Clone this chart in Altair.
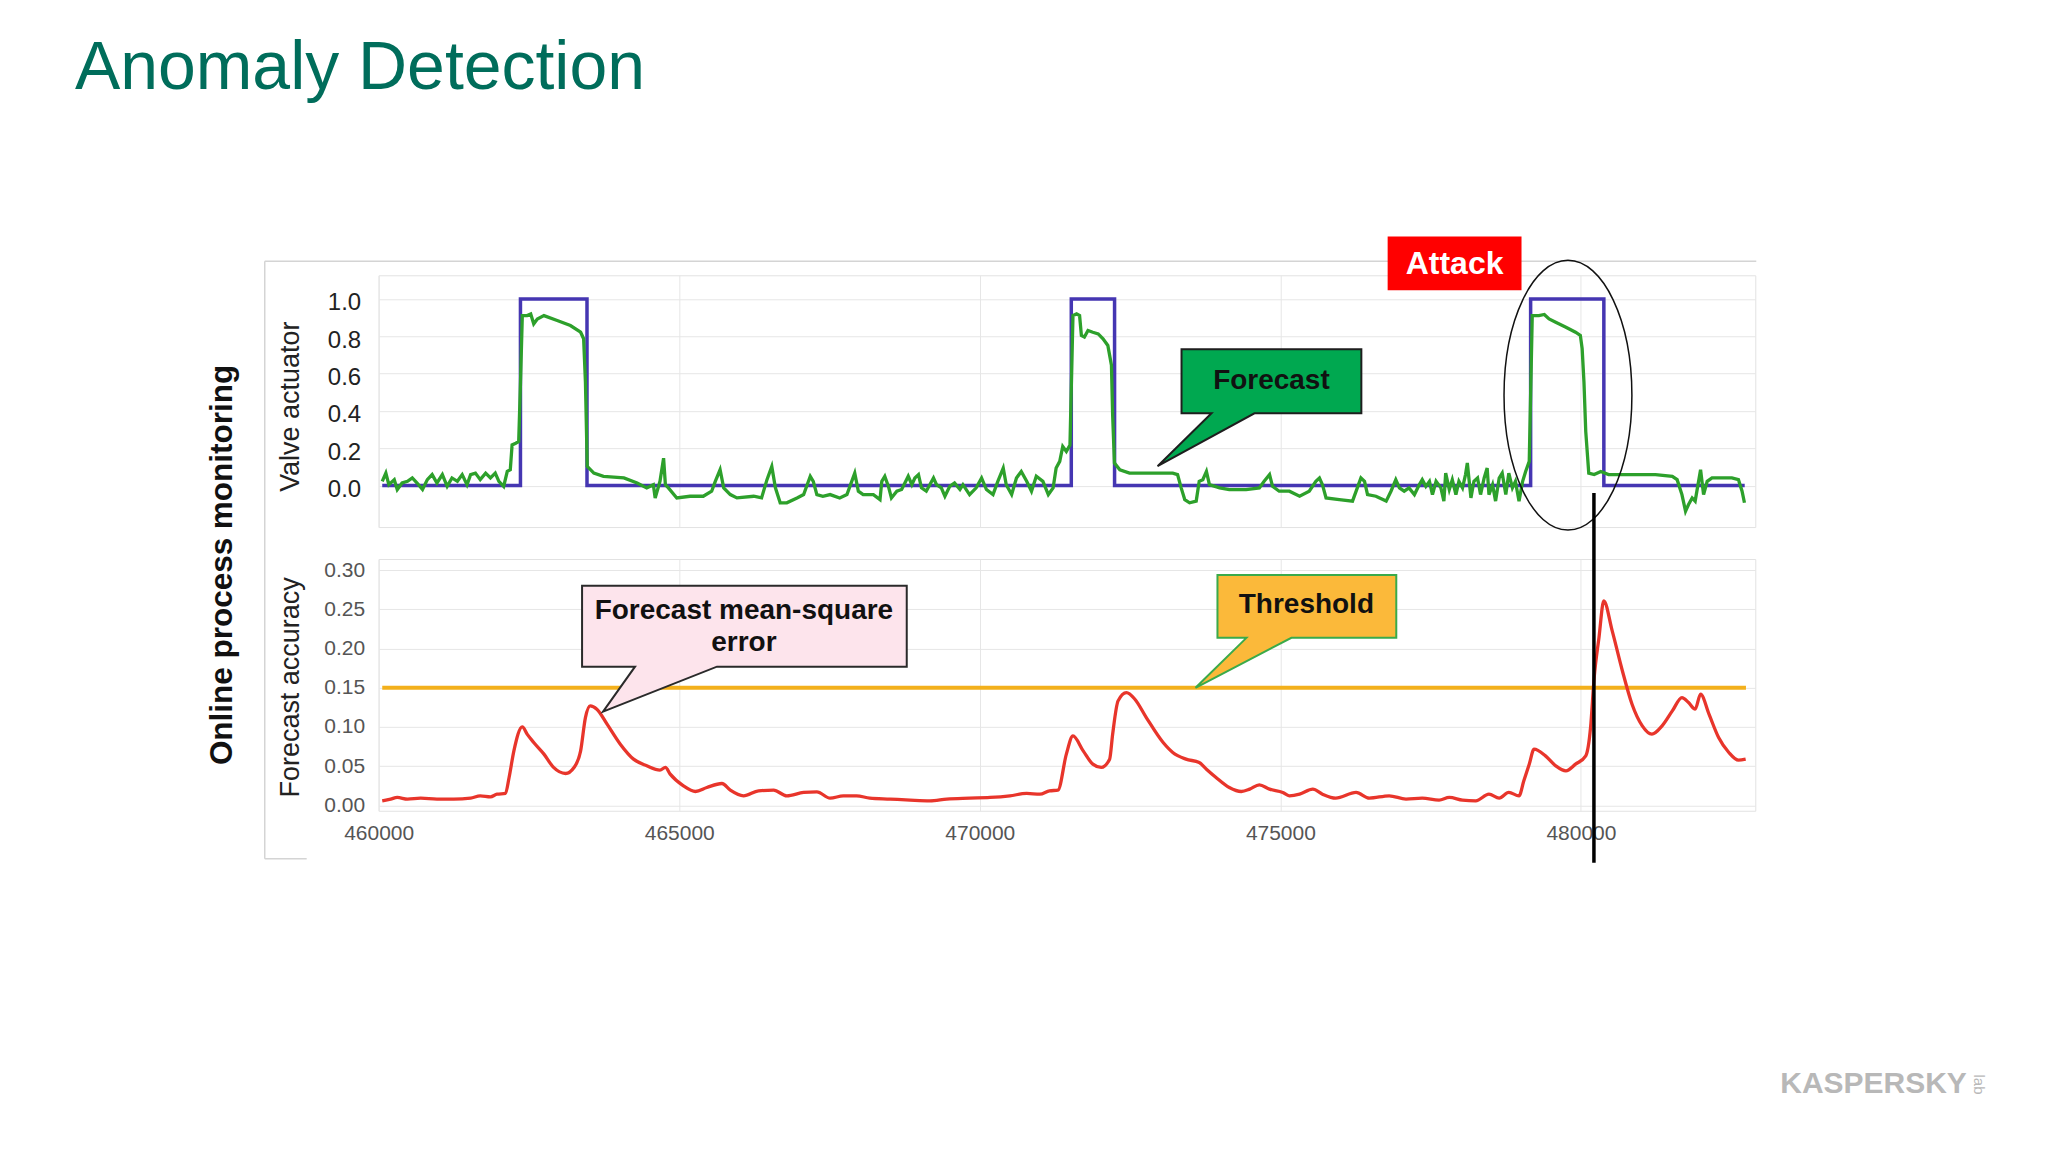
import altair as alt
import pandas as pd

# ---------------- data ----------------
# Valve actuator (measured, blue step signal)
blue_x = [460060, 462359, 462359, 463466, 463466, 471522, 471522, 472242, 472242,
          479163, 479163, 480381, 480381, 482724]
blue_y = [0, 0, 1, 1, 0, 0, 1, 1, 0, 0, 1, 1, 0, 0]

# Forecast (green)
green_x = [460060, 460120, 460170, 460260, 460310, 460390, 460480, 460560, 460640, 460730,
           460810, 460890, 460970, 461060, 461140, 461220, 461310, 461390, 461470, 461530,
           461610, 461690, 461780, 461860, 461940, 462000, 462080, 462140, 462190, 462220,
           462280, 462330, 462360, 462390, 462470, 462530, 462580, 462640, 462750, 462970,
           463190, 463360, 463410, 463440, 463470, 463580, 463740, 464080, 464300, 464460,
           464570, 464600, 464680, 464740, 464770, 464820, 464960, 465180, 465400, 465540,
           465600, 465680, 465740, 465850, 465960, 466240, 466370, 466460, 466540, 466600,
           466680, 466790, 466960, 467070, 467180, 467230, 467290, 467390,
           467510, 467670, 467790, 467870, 467920, 467980, 468060, 468230, 468340, 468370,
           468420, 468480, 468530, 468620, 468700, 468810, 468870, 468920, 468980, 469030,
           469110, 469230, 469280, 469360, 469420, 469500, 469580, 469670, 469720, 469830,
           469940, 470030, 470110, 470220, 470300, 470390, 470440, 470530, 470610, 470690,
           470780, 470860, 470940, 471050, 471140, 471220, 471270, 471330, 471380, 471440,
           471500, 471550, 471610, 471660, 471690, 471740, 471800, 471880, 471970, 472050,
           472130, 472190, 472210, 472240, 472330, 472490, 472770, 473050, 473210, 473290,
           473350, 473410, 473490, 473600, 473650, 473710, 473770, 473820, 473990, 474150,
           474430, 474650, 474730, 474820, 474870, 474980,
           475150, 475320, 475480, 475590, 475650, 475700, 475760, 475980, 476200, 476280,
           476340, 476400, 476450, 476590, 476760, 476840, 476920, 476980, 477060, 477140,
           477230, 477310, 477360, 477420, 477480, 477530, 477590, 477670, 477720, 477750,
           477810, 477860, 477920, 477970, 478030, 478080, 478110, 478170, 478220, 478280,
           478330, 478390, 478440, 478470, 478530, 478580, 478640, 478690, 478750, 478800,
           478860, 478910, 478970, 479030, 479080, 479140, 479190, 479300, 479390, 479470,
           479580, 479750, 479910, 479990, 480020, 480050, 480080, 480130, 480220, 480330,
           480460, 480690, 480960, 481240, 481520, 481600, 481680, 481740, 481790, 481850,
           481900, 481990, 482040, 482100, 482180, 482350, 482510, 482620, 482680, 482720]
green_y = [0.023, 0.067, 0.005, 0.032, -0.021, 0.014, 0.023, 0.041, 0.014, -0.021,
           0.032, 0.059, 0.014, 0.059, -0.004, 0.041, 0.023, 0.059, 0.005, 0.059,
           0.067, 0.032, 0.067, 0.041, 0.067, 0.023, -0.004, 0.076, 0.085, 0.218,
           0.227, 0.236, 0.556, 0.911, 0.911, 0.920, 0.867, 0.893, 0.911, 0.885,
           0.858, 0.822, 0.787, 0.556, 0.103, 0.067, 0.050, 0.041, 0.014, -0.012,
           0.005, -0.066, 0.023, 0.147, 0.005, -0.012, -0.066, -0.057, -0.057, -0.030,
           0.023, 0.085, -0.012, -0.048, -0.066, -0.057, -0.066, 0.032, 0.103, -0.012,
           -0.092, -0.092, -0.066, -0.048, 0.050, 0.023, -0.048, -0.057,
           -0.048, -0.066, -0.048, 0.023, 0.067, -0.030, -0.048, -0.048, -0.075, 0.023,
           0.050, -0.004, -0.066, -0.030, -0.021, 0.050, 0.005, 0.041, 0.059, -0.012,
           -0.030, 0.041, 0.005, -0.012, -0.057, -0.004, 0.014, -0.021, 0.005, -0.048,
           -0.012, 0.041, -0.021, -0.048, 0.023, 0.094, 0.005, -0.048, 0.041, 0.076,
           0.023, -0.030, 0.050, 0.023, -0.048, -0.012, 0.094, 0.130, 0.210, 0.183,
           0.218, 0.911, 0.920, 0.911, 0.805, 0.796, 0.831, 0.822, 0.813, 0.787,
           0.751, 0.645, 0.378, 0.121, 0.085, 0.067, 0.067, 0.067, 0.067, 0.059,
           -0.012, -0.075, -0.092, -0.083, 0.023, 0.032, 0.076, 0.005, -0.012, -0.021,
           -0.021, -0.012, 0.023, 0.059, -0.004, -0.030,
           -0.030, -0.057, -0.030, 0.023, 0.041, 0.005, -0.066, -0.075, -0.083, -0.012,
           0.041, 0.023, -0.048, -0.057, -0.083, -0.030, 0.032, -0.012, -0.030, -0.012,
           -0.048, 0.005, 0.032, -0.004, 0.023, -0.048, 0.023, -0.012, -0.083, 0.067,
           -0.021, 0.032, -0.048, 0.023, -0.012, 0.059, 0.121, -0.066, 0.023, 0.041,
           -0.048, 0.041, 0.094, -0.048, 0.005, -0.083, 0.041, 0.067, -0.048, 0.067,
           -0.012, 0.023, -0.083, 0.023, 0.076, 0.130, 0.911, 0.911, 0.917, 0.893,
           0.876, 0.849, 0.822, 0.805, 0.734, 0.556, 0.290, 0.067, 0.059, 0.076,
           0.059, 0.059, 0.059, 0.059, 0.050, 0.032, -0.048, -0.137, -0.101, -0.066,
           -0.083, 0.085, -0.048, 0.023, 0.041, 0.041, 0.041, 0.032, -0.030, -0.092]

# Forecast mean-square error (red)
red_x = [460060, 460200, 460310, 460480, 460700, 460970, 461250, 461530, 461690, 461860,
         461970, 462110, 462170, 462250, 462390, 462470, 462580, 462750, 462910, 463110,
         463250, 463360, 463440, 463520, 463630, 463800, 464020, 464240, 464460, 464680,
         464770, 464850, 465070, 465270, 465460, 465710, 465850, 466070, 466320, 466570,
         466790, 467070, 467290,
         467510, 467730, 467950, 468170, 468510, 468840, 469170, 469450, 469830, 470170,
         470500, 470780, 471000, 471160, 471300, 471440, 471550, 471720, 471880, 472020,
         472160, 472210, 472300, 472440, 472580, 472770, 473050, 473210, 473430, 473650,
         473770, 473930, 474150, 474350, 474490, 474650, 474820, 475040,
         475150, 475320, 475540, 475700, 475920, 476260, 476480, 476810, 477090, 477360,
         477640, 477810, 478030, 478250, 478470, 478640, 478800, 478970, 479050, 479140,
         479220, 479410, 479580, 479750, 479910, 480080, 480160, 480220, 480300, 480380,
         480520, 480690, 480850, 481020, 481180, 481350, 481520, 481680, 481790, 481900,
         481990, 482130, 482290, 482460, 482620, 482740]
red_y = [0.0057, 0.0079, 0.0100, 0.0079, 0.0091, 0.0079, 0.0079, 0.0091, 0.0121, 0.0108,
         0.0142, 0.0151, 0.0355, 0.0695, 0.1001, 0.0908, 0.0801, 0.0653, 0.0483, 0.0406,
         0.0483, 0.0695, 0.1120, 0.1269, 0.1227, 0.1036, 0.0780, 0.0589, 0.0504, 0.0449,
         0.0483, 0.0398, 0.0249, 0.0176, 0.0227, 0.0278, 0.0193, 0.0121, 0.0185, 0.0193,
         0.0121, 0.0164, 0.0172,
         0.0091, 0.0121, 0.0121, 0.0091, 0.0079, 0.0066, 0.0057, 0.0079, 0.0091, 0.0100,
         0.0121, 0.0151, 0.0142, 0.0185, 0.0193, 0.0653, 0.0886, 0.0695, 0.0525, 0.0483,
         0.0589, 0.0908, 0.1333, 0.1439, 0.1354, 0.1120, 0.0801, 0.0674, 0.0589, 0.0546,
         0.0461, 0.0355, 0.0227, 0.0176, 0.0206, 0.0261, 0.0206, 0.0164,
         0.0121, 0.0142, 0.0206, 0.0142, 0.0091, 0.0164, 0.0091, 0.0121, 0.0079, 0.0091,
         0.0066, 0.0100, 0.0066, 0.0057, 0.0142, 0.0091, 0.0164, 0.0121, 0.0312, 0.0525,
         0.0716, 0.0631, 0.0504, 0.0440, 0.0525, 0.0631, 0.0993, 0.1631, 0.2141, 0.2608,
         0.2226, 0.1715, 0.1290, 0.1014, 0.0908, 0.1014, 0.1205, 0.1375, 0.1312, 0.1227,
         0.1418, 0.1163, 0.0865, 0.0674, 0.0576, 0.0589]

threshold_value = 0.15
threshold_x = [460060, 482745]

x_ticks = [460000, 465000, 470000, 475000, 480000]
top_ticks = [0.0, 0.2, 0.4, 0.6, 0.8, 1.0]
bottom_ticks = [0.0, 0.05, 0.10, 0.15, 0.20, 0.25, 0.30]

# annotation anchors (data coordinates of what they point at)
forecast_tip = (472957, 0.104)
attack_center = (477898, 1.191)
ellipse_center = (479784, 0.4845)
mse_tip = (463733, 0.1196)
threshold_tip = (473588, 0.15)
attack_line_x = 480216

# ---------------- styling ----------------
FONT = "Liberation Sans"
X_DOMAIN = [460000, 482900]
TOP_DOMAIN = [-0.222, 1.127]
BOT_DOMAIN = [-0.007, 0.3144]
W, H = 1378, 252
GRID = "#e6e6e6"

FORECAST_SHAPE = "M 0 0 L 54 -53 L 24 -53 L 24 -117 L 204 -117 L 204 -53 L 97 -53 Z"
MSE_SHAPE = "M 0 0 L 32 -45 L -21 -45 L -21 -126 L 304 -126 L 304 -45 L 114 -45 Z"
THRESH_SHAPE = "M 0 0 L 51 -50 L 22 -50 L 22 -113 L 201 -113 L 201 -50 L 96 -50 Z"
ATTACK_SHAPE = "M -67 -27 L 67 -27 L 67 27 L -67 27 Z"
ELLIPSE_SHAPE = ("M 0 -135 C 35.3 -135 64 -74.6 64 0 C 64 74.6 35.3 135 0 135 "
                 "C -35.3 135 -64 74.6 -64 0 C -64 -74.6 -35.3 -135 0 -135 Z")

one = pd.DataFrame({"a": [0]})


def xt():
    return alt.X("x:Q", scale=alt.Scale(domain=X_DOMAIN, nice=False, zero=False),
                 axis=alt.Axis(values=x_ticks, labels=False, ticks=False, domain=False,
                               grid=True, gridColor=GRID, title=None))


def xb():
    return alt.X("x:Q", scale=alt.Scale(domain=X_DOMAIN, nice=False, zero=False),
                 axis=alt.Axis(values=x_ticks, format="d", labelFontSize=21, labelColor="#555",
                               labelPadding=12, labelFlush=False, ticks=False, domain=False,
                               grid=True, gridColor=GRID, title=None))


def yt():
    return alt.Y("y:Q", scale=alt.Scale(domain=TOP_DOMAIN, nice=False, zero=False),
                 axis=alt.Axis(values=top_ticks, format=".1f", labelFontSize=24, labelColor="#222",
                               labelPadding=18, labelFlush=False, labelOffset=4, ticks=False,
                               domain=False, grid=True, gridColor=GRID,
                               title="Valve actuator", titleFontSize=27, titleFontWeight="normal",
                               titleColor="#222", titleX=-88, titleY=131, titleAngle=270,
                               titleAlign="center", titleBaseline="middle"))


def yb():
    return alt.Y("y:Q", scale=alt.Scale(domain=BOT_DOMAIN, nice=False, zero=False),
                 axis=alt.Axis(values=bottom_ticks, format=".2f", labelFontSize=21, labelColor="#555",
                               labelPadding=14, labelFlush=False, ticks=False, domain=False,
                               grid=True, gridColor=GRID,
                               title="Forecast accuracy", titleFontSize=27, titleFontWeight="normal",
                               titleColor="#222", titleX=-88, titleY=128, titleAngle=270,
                               titleAlign="center", titleBaseline="middle"))


blue_df = pd.DataFrame({"x": blue_x, "y": blue_y, "i": list(range(len(blue_x)))})
green_df = pd.DataFrame({"x": green_x, "y": green_y})
red_df = pd.DataFrame({"x": red_x, "y": red_y})
thr_df = pd.DataFrame({"x": [threshold_x[0]], "x2": [threshold_x[1]], "y": [threshold_value]})


def pt(p):
    return pd.DataFrame({"x": [p[0]], "y": [p[1]]})


# ---------------- top panel ----------------
bounds = alt.Chart(one).mark_rect(opacity=0, fill="white").encode(
    x=alt.value(-370), x2=alt.value(1662), y=alt.value(-266), y2=alt.value(870))

frame_left = alt.Chart(one).mark_rule(color="#d4d4d4", strokeWidth=1.5).encode(
    x=alt.value(-114), y=alt.value(-14), y2=alt.value(584))
frame_top = alt.Chart(one).mark_rule(color="#d4d4d4", strokeWidth=1.5).encode(
    x=alt.value(-114), x2=alt.value(1379), y=alt.value(-14))
frame_bottom = alt.Chart(one).mark_rule(color="#d4d4d4", strokeWidth=1.5).encode(
    x=alt.value(-114), x2=alt.value(-72), y=alt.value(584))

title = alt.Chart(one).mark_text(text="Anomaly Detection", font=FONT, fontSize=68,
                                 color="#006D5B", align="left", baseline="alphabetic").encode(
    x=alt.value(-304), y=alt.value(-186))

side_title = alt.Chart(one).mark_text(text="Online process monitoring", font=FONT, fontSize=31.5,
                                      fontWeight="bold", color="#111", angle=270,
                                      align="center", baseline="middle").encode(
    x=alt.value(-156), y=alt.value(290))

blue_line = alt.Chart(blue_df).mark_line(color="#4536B2", strokeWidth=3.5).encode(
    x=xt(), y=yt(), order=alt.Order("i:Q"))
green_line = alt.Chart(green_df).mark_line(color="#2DA02B", strokeWidth=3.3).encode(x=xt(), y=yt())

forecast_box = alt.Chart(pt(forecast_tip)).mark_point(
    shape=FORECAST_SHAPE, size=4, filled=True, fill="#00A850", stroke="#1e1e1e",
    strokeWidth=2, opacity=1).encode(x=xt(), y=yt())
forecast_text = alt.Chart(pt(forecast_tip)).mark_text(
    text="Forecast", font=FONT, fontSize=28, fontWeight="bold", color="#111",
    dx=114, dy=-85, align="center", baseline="middle").encode(x=xt(), y=yt())

attack_box = alt.Chart(pt(attack_center)).mark_point(
    shape=ATTACK_SHAPE, size=4, filled=True, fill="#FF0000", strokeWidth=0,
    opacity=1).encode(x=xt(), y=yt())
attack_text = alt.Chart(pt(attack_center)).mark_text(
    text="Attack", font=FONT, fontSize=32, fontWeight="bold", color="white",
    align="center", baseline="middle", dy=1).encode(x=xt(), y=yt())

ellipse = alt.Chart(pt(ellipse_center)).mark_point(
    shape=ELLIPSE_SHAPE, size=4, filled=False, stroke="#111", strokeWidth=1.5,
    opacity=1).encode(x=xt(), y=yt())

top = alt.layer(bounds, frame_left, frame_top, frame_bottom, title, side_title,
                blue_line, green_line, forecast_box, forecast_text,
                attack_box, attack_text, ellipse).properties(width=W, height=H)

# ---------------- bottom panel ----------------
thr_rule = alt.Chart(thr_df).mark_rule(color="#F3B01C", strokeWidth=4).encode(
    x=xb(), x2=alt.X2("x2:Q"), y=yb())
red_line = alt.Chart(red_df).mark_line(color="#E8352B", strokeWidth=3.3,
                                       interpolate="monotone").encode(x=xb(), y=yb())

mse_box = alt.Chart(pt(mse_tip)).mark_point(
    shape=MSE_SHAPE, size=4, filled=True, fill="#FDE4EC", stroke="#2a2a2a",
    strokeWidth=2, opacity=1).encode(x=xb(), y=yb())
mse_text1 = alt.Chart(pt(mse_tip)).mark_text(
    text="Forecast mean-square", font=FONT, fontSize=28, fontWeight="bold", color="#111",
    dx=141, dy=-101, align="center", baseline="middle").encode(x=xb(), y=yb())
mse_text2 = alt.Chart(pt(mse_tip)).mark_text(
    text="error", font=FONT, fontSize=28, fontWeight="bold", color="#111",
    dx=141, dy=-69, align="center", baseline="middle").encode(x=xb(), y=yb())

thr_box = alt.Chart(pt(threshold_tip)).mark_point(
    shape=THRESH_SHAPE, size=4, filled=True, fill="#FBB93A", stroke="#3AAA4A",
    strokeWidth=2, opacity=1).encode(x=xb(), y=yb())
thr_text = alt.Chart(pt(threshold_tip)).mark_text(
    text="Threshold", font=FONT, fontSize=28, fontWeight="bold", color="#111",
    dx=111, dy=-83, align="center", baseline="middle").encode(x=xb(), y=yb())

attack_rule = alt.Chart(pd.DataFrame({"x": [attack_line_x]})).mark_rule(
    color="black", strokeWidth=3.5).encode(x=xb(), y=alt.value(-66), y2=alt.value(304))

logo = alt.Chart(one).mark_text(text="KASPERSKY", font=FONT, fontSize=30, fontWeight="bold",
                                color="#b8b8b8", align="left", baseline="middle").encode(
    x=alt.value(1403), y=alt.value(526))
logo_lab = alt.Chart(one).mark_text(text="lab", font=FONT, fontSize=15, color="#b8b8b8",
                                    angle=90, align="center", baseline="middle").encode(
    x=alt.value(1602), y=alt.value(526))

bottom = alt.layer(thr_rule, red_line, mse_box, mse_text1, mse_text2,
                   thr_box, thr_text, attack_rule, logo, logo_lab).properties(width=W, height=H)

chart = alt.vconcat(top, bottom, spacing=32, bounds="flush").properties(
    padding=0, background="white"
).configure_view(stroke="#e2e2e2", strokeWidth=1).configure_axis(
    labelFont=FONT, titleFont=FONT)

chart.save("out.html", embed_options={"renderer": "svg", "actions": False})
